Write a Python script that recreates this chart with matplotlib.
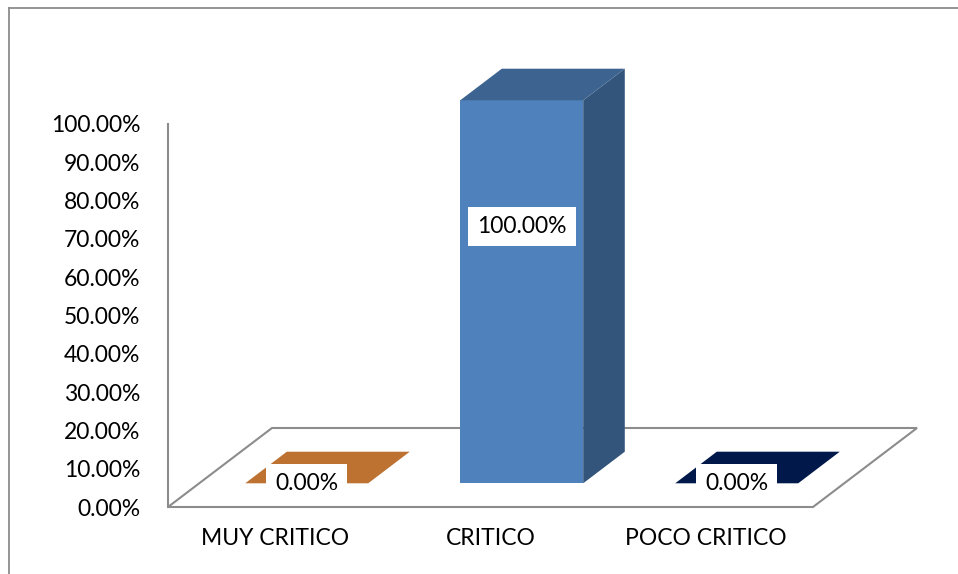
import matplotlib
matplotlib.use("Agg")
import matplotlib.pyplot as plt
from matplotlib.patches import Polygon
from matplotlib.lines import Line2D

plt.rcParams["font.family"] = ["Lato", "DejaVu Sans"]

# ---------------------------------------------------------------------------
# data
# ---------------------------------------------------------------------------
categories = ["MUY CRITICO", "CRITICO", "POCO CRITICO"]
values = [0.0, 1.0, 0.0]
yticks = [0.0, 0.1, 0.2, 0.3, 0.4, 0.5, 0.6, 0.7, 0.8, 0.9, 1.0]

# face colours per bar: front, top, side
front_cols = ["#C0732F", "#4F81BD", "#001A4B"]
top_cols = ["#BD7232", "#3D6491", "#00194A"]
side_cols = ["#9A5B24", "#34557B", "#001236"]

# ---------------------------------------------------------------------------
# pseudo-3D geometry (in axes data units)
# ---------------------------------------------------------------------------
DX = 104 / 215      # full floor depth, x shift
DY = 79 / 383       # full floor depth, y shift
F0, DD = 0.3, 0.4   # bar starts at 30% of depth, 40% deep
BW = 0.572          # bar width
EDGE = "#8C8C8C"
FS = 16.5

fig = plt.figure(figsize=(9.58, 5.74), dpi=100)
ax = fig.add_axes([168 / 958, 67 / 574, 645 / 958, 383 / 574])
ax.set_xlim(-0.5, 2.5)
ax.set_ylim(0, 1)

# outer chart border (only left and top are in frame)
fig.add_artist(Line2D([9 / 958, 9 / 958], [0, 1 - 8 / 574],
                      transform=fig.transFigure, color=EDGE, lw=1.3))
fig.add_artist(Line2D([9 / 958, 1], [1 - 8 / 574, 1 - 8 / 574],
                      transform=fig.transFigure, color=EDGE, lw=1.3))

# floor
x_lo, x_hi = ax.get_xlim()
floor = [(x_lo, 0), (x_hi, 0), (x_hi + DX, DY), (x_lo + DX, DY)]
ax.add_patch(Polygon(floor, closed=True, facecolor="white", edgecolor=EDGE,
                     lw=1.5, clip_on=False, zorder=0.5))

# bars
for i, (v, cf, ct, cs) in enumerate(zip(values, front_cols, top_cols,
                                        side_cols)):
    x0 = i - BW / 2 + F0 * DX
    x1 = x0 + BW
    y0 = F0 * DY
    y1 = y0 + v
    ox, oy = DD * DX, DD * DY
    if v > 0:
        ax.add_patch(Polygon([(x0, y0), (x1, y0), (x1, y1), (x0, y1)],
                             facecolor=cf, edgecolor="none", clip_on=False,
                             zorder=3))
        ax.add_patch(Polygon([(x1, y0), (x1 + ox, y0 + oy),
                              (x1 + ox, y1 + oy), (x1, y1)],
                             facecolor=cs, edgecolor="none", clip_on=False,
                             zorder=3))
    ax.add_patch(Polygon([(x0, y1), (x1, y1), (x1 + ox, y1 + oy),
                          (x0 + ox, y1 + oy)],
                         facecolor=ct, edgecolor="none", clip_on=False,
                         zorder=3))
    ax.text(x0 + BW / 2, y0 + v * 0.67, f"{v * 100:.2f}%", ha="center",
            va="center", fontsize=FS, color="black", zorder=5,
            bbox=dict(boxstyle="square,pad=0.4", facecolor="white",
                      edgecolor="none"))

# axes styling
for s in ["top", "right", "bottom"]:
    ax.spines[s].set_visible(False)
ax.spines["left"].set_color(EDGE)
ax.spines["left"].set_linewidth(1.5)
ax.set_yticks(yticks)
ax.set_yticklabels([f"{t * 100:.2f}%" for t in yticks], fontsize=FS)
ax.set_xticks(range(len(categories)))
ax.set_xticklabels(categories, fontsize=FS)
ax.tick_params(axis="y", length=0, pad=20)
ax.tick_params(axis="x", length=0, pad=15)
ax.patch.set_alpha(0)

fig.savefig("out.png", dpi=100, facecolor="white")
